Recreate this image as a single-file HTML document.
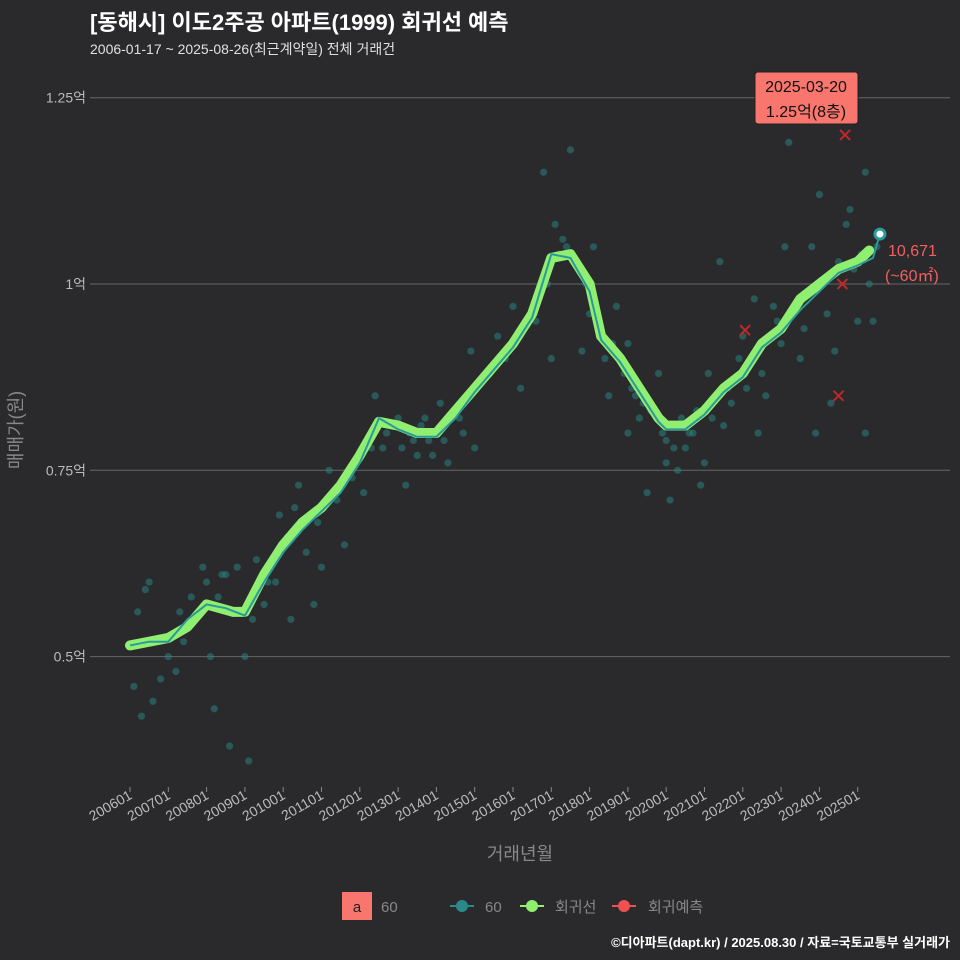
<!DOCTYPE html>
<html><head><meta charset="utf-8"><style>
body{margin:0;background:#2a2a2c;overflow:hidden;}
svg{display:block;}
svg text{font-family:"Liberation Sans","Noto Sans CJK KR",sans-serif;}
</style></head><body>
<svg id="c" width="960" height="960" xmlns="http://www.w3.org/2000/svg">
<rect width="960" height="960" fill="#2a2a2c"/>
<text x="90" y="30" font-size="22" font-weight="bold" fill="#ffffff">[동해시] 이도2주공 아파트(1999) 회귀선 예측</text>
<text x="90" y="54" font-size="14" fill="#e0e0e0">2006-01-17 ~ 2025-08-26(최근계약일) 전체 거래건</text>
<g id="grid"></g><g id="pts"></g><g id="lines"></g><g id="marks"></g>
<text x="22" y="430" font-size="18" fill="#888" transform="rotate(-90 22 430)" text-anchor="middle">매매가(원)</text>
<text x="520" y="860" font-size="18" fill="#888" text-anchor="middle">거래년월</text>
<g>
<rect x="342" y="892" width="30" height="28" fill="#f8766d"/>
<text x="357" y="912" font-size="15" fill="#222" text-anchor="middle">a</text>
<text x="381" y="912" font-size="15" fill="#888">60</text>
<line x1="450" y1="906" x2="474" y2="906" stroke="#2a8a8a" stroke-width="2"/><circle cx="462" cy="906" r="6" fill="#2a8a8a"/>
<text x="485" y="912" font-size="15" fill="#888">60</text>
<line x1="520" y1="906" x2="544" y2="906" stroke="#90ee70" stroke-width="2"/><circle cx="532" cy="906" r="6" fill="#90ee70"/>
<text x="555" y="912" font-size="15" fill="#888">회귀선</text>
<line x1="612" y1="906" x2="636" y2="906" stroke="#f05050" stroke-width="2"/><circle cx="624" cy="906" r="6" fill="#f05050"/>
<text x="648" y="912" font-size="15" fill="#888">회귀예측</text>
</g>
<text x="950" y="947" font-size="13" font-weight="bold" fill="#fff" text-anchor="end">©디아파트(dapt.kr) / 2025.08.30 / 자료=국토교통부 실거래가</text>
</svg>
<script>
const yTicks=[0.5,0.75,1,1.25];
const yTickLabels=["0.5억","0.75억","1억","1.25억"];
const xTickYears=[2006,2007,2008,2009,2010,2011,2012,2013,2014,2015,2016,2017,2018,2019,2020,2021,2022,2023,2024,2025];
const xTickLabels=["200601","200701","200801","200901","201001","201101","201201","201301","201401","201501","201601","201701","201801","201901","202001","202101","202201","202301","202401","202501"];
const regT=[2006,2007,2007.5,2008,2008.7,2009,2009.5,2010,2010.5,2011,2011.5,2012,2012.5,2013,2013.5,2014,2014.5,2015,2015.5,2016,2016.5,2017,2017.5,2018,2018.3,2018.8,2019.3,2019.8,2020,2020.5,2021,2021.5,2022,2022.5,2023,2023.5,2024,2024.5,2025,2025.3];
const regV=[0.515,0.525,0.54,0.57,0.56,0.56,0.61,0.65,0.68,0.70,0.73,0.77,0.815,0.81,0.80,0.80,0.83,0.86,0.89,0.92,0.96,1.035,1.04,1.0,0.93,0.90,0.86,0.82,0.81,0.81,0.83,0.86,0.88,0.92,0.94,0.98,1.0,1.02,1.03,1.045];
const avgT=[2006,2006.5,2007,2007.5,2008,2008.5,2009,2009.5,2010,2010.5,2011,2011.5,2012,2012.5,2013,2013.5,2014,2014.5,2015,2015.5,2016,2016.5,2017,2017.5,2018,2018.3,2018.8,2019.3,2019.8,2020,2020.5,2021,2021.5,2022,2022.5,2023,2023.5,2024,2024.5,2025,2025.4,2025.58];
const avgV=[0.515,0.52,0.52,0.55,0.57,0.565,0.555,0.6,0.64,0.67,0.695,0.72,0.76,0.82,0.805,0.795,0.795,0.82,0.855,0.885,0.915,0.955,1.04,1.035,0.99,0.925,0.895,0.855,0.815,0.805,0.805,0.825,0.855,0.875,0.915,0.935,0.965,0.99,1.015,1.025,1.035,1.067];
const ptT=[2006.1,2006.2,2006.3,2006.5,2006.6,2006.8,2007.2,2007.6,2007.9,2008.2,2008.4,2008.6,2008.8,2009.1,2009.3,2009.6,2009.9,2010.2,2010.4,2010.8,2011.2,2011.6,2012.1,2012.4,2012.8,2013.2,2013.5,2013.8,2014.1,2014.3,2014.6,2014.9,2015.2,2015.6,2016.0,2016.4,2016.8,2017.1,2017.3,2017.5,2017.8,2018.1,2018.4,2018.7,2019.0,2019.2,2019.5,2019.8,2020.1,2020.3,2020.6,2020.9,2021.1,2021.4,2021.7,2022.0,2022.3,2022.6,2022.9,2023.2,2023.5,2023.8,2024.0,2024.2,2024.4,2024.6,2024.8,2025.0,2025.2,2025.4,2024.3,2023.9,2021.0,2019.3,2017.0,2015.0,2013.3,2011.0,2009.0,2007.4,2008.1,2012.6,2016.2,2018.5,2020.2,2022.4,2024.7,2025.2,
2006.4,2006.7,2007.0,2007.3,2007.7,2008.0,2008.3,2008.5,2009.2,2009.5,2009.8,2010.1,2010.3,2010.6,2011.4,2011.8,2012.2,2012.7,2013.0,2013.1,2013.4,2013.6,2013.9,2014.0,2014.2,2014.4,2014.8,2015.4,2015.8,2016.6,2017.2,2017.4,2017.6,2017.9,2018.2,2018.6,2018.9,2019.1,2019.4,2019.6,2019.9,2020.0,2020.4,2020.5,2020.7,2020.8,2021.2,2021.3,2021.5,2021.8,2021.9,2022.1,2022.2,2022.5,2022.7,2023.0,2023.3,2023.6,2023.7,2024.1,2024.5,2024.9,2025.1,2025.3,2025.5,2023.1,2022.8,2021.6,2020.0,2019.0,2018.0,2016.9,2014.7,2013.7,2012.3,2010.9];
const ptV=[0.46,0.56,0.42,0.6,0.44,0.47,0.48,0.58,0.62,0.43,0.61,0.38,0.62,0.36,0.63,0.6,0.69,0.55,0.73,0.57,0.75,0.65,0.72,0.85,0.81,0.73,0.77,0.79,0.84,0.76,0.82,0.91,0.87,0.93,0.97,0.95,1.15,1.08,1.06,1.18,0.91,1.05,0.9,0.97,0.8,0.85,0.72,0.88,0.71,0.75,0.8,0.73,0.88,1.03,0.84,0.93,0.98,0.85,0.95,1.19,0.9,1.05,1.12,0.96,0.91,1.25,1.1,0.95,1.15,0.95,0.84,0.8,0.76,0.82,0.9,0.78,0.8,0.62,0.5,0.52,0.5,0.78,0.86,0.85,0.78,0.8,1.08,0.8,
0.59,0.52,0.5,0.56,0.55,0.6,0.58,0.61,0.55,0.57,0.6,0.66,0.7,0.64,0.71,0.74,0.79,0.8,0.82,0.78,0.79,0.81,0.77,0.8,0.79,0.82,0.85,0.88,0.9,0.95,1.04,1.05,1.03,1.0,0.95,0.92,0.88,0.86,0.84,0.83,0.8,0.79,0.82,0.78,0.8,0.83,0.82,0.85,0.81,0.87,0.9,0.86,0.9,0.88,0.93,0.92,0.96,0.94,0.99,1.0,1.03,1.02,1.04,1.0,1.05,1.05,0.97,0.86,0.76,0.92,0.96,1.0,0.8,0.82,0.78,0.68];
const predT=[2022.06,2024.67,2024.6,2024.5];
const predV=[0.938,1.2,1.0,0.85];
const X=t=>130+(t-2006)*38.3;
const Y=v=>284-(v-1)*745.2;
const NS="http://www.w3.org/2000/svg";
function mk(tag,attrs,parent){const e=document.createElementNS(NS,tag);for(const k in attrs)e.setAttribute(k,attrs[k]);document.getElementById(parent).appendChild(e);return e;}
yTicks.forEach((v,i)=>{
 const l=mk('line',{x1:90,x2:950,y1:Y(v),y2:Y(v),stroke:'#666','stroke-width':1},'grid');
 
 
 const t=mk('text',{x:86,y:Y(v)+5,'font-size':14,fill:'#bbb','text-anchor':'end'},'grid');
 
 
 t.textContent=yTickLabels[i];
});
xTickYears.forEach((yr,i)=>{
 const x=X(yr);
 mk('line',{x1:x,x2:x,y1:787,y2:792,stroke:'#888'},'grid');
 const t=mk('text',{x:x+3,y:798,'font-size':14,fill:'#bbb','text-anchor':'end',transform:`rotate(-30 ${x+3} 798)`},'grid');
 
 
 t.textContent=xTickLabels[i];
});
ptT.forEach((t,i)=>{
 const c=mk('circle',{cx:X(t),cy:Y(ptV[i]),r:3.6,fill:'#2a8080','fill-opacity':0.55},'pts');
 
 
});
const reg=mk('polyline',{points:regT.map((t,i)=>X(t)+','+Y(regV[i])).join(' '),fill:'none',stroke:'#90ee70','stroke-width':10,'stroke-linejoin':'round','stroke-linecap':'round'},'lines');


const avg=mk('polyline',{points:avgT.map((t,i)=>X(t)+','+Y(avgV[i])).join(' '),fill:'none',stroke:'#2a9a9a','stroke-width':2},'lines');


predT.forEach((t,i)=>{
 const x=X(t),y=Y(predV[i]);
 const p=mk('path',{d:`M${x-5},${y-5}L${x+5},${y+5}M${x-5},${y+5}L${x+5},${y-5}`,stroke:'#c0282a','stroke-width':2},'marks');
 
 
});
const lx=X(avgT[avgT.length-1]),ly=Y(avgV[avgV.length-1]);
const ep=mk('circle',{cx:lx,cy:ly,r:5,fill:'#fff',stroke:'#2a9a9a','stroke-width':3},'marks');


const t1=mk('text',{x:888,y:256,'font-size':16,fill:'#f06060'},'marks');t1.textContent='10,671';


const t2=mk('text',{x:885,y:281,'font-size':16,fill:'#f06060'},'marks');t2.textContent='(~60㎡)';


const box=mk('rect',{x:755,y:72,width:103,height:52,rx:3,fill:'#f8766d',stroke:'#222'},'marks');


const a1=mk('text',{x:806,y:92,'font-size':16,fill:'#111','text-anchor':'middle'},'marks');a1.textContent='2025-03-20';
const a2=mk('text',{x:806,y:117,'font-size':16,fill:'#111','text-anchor':'middle'},'marks');a2.textContent='1.25억(8층)';
</script>
</body></html>
